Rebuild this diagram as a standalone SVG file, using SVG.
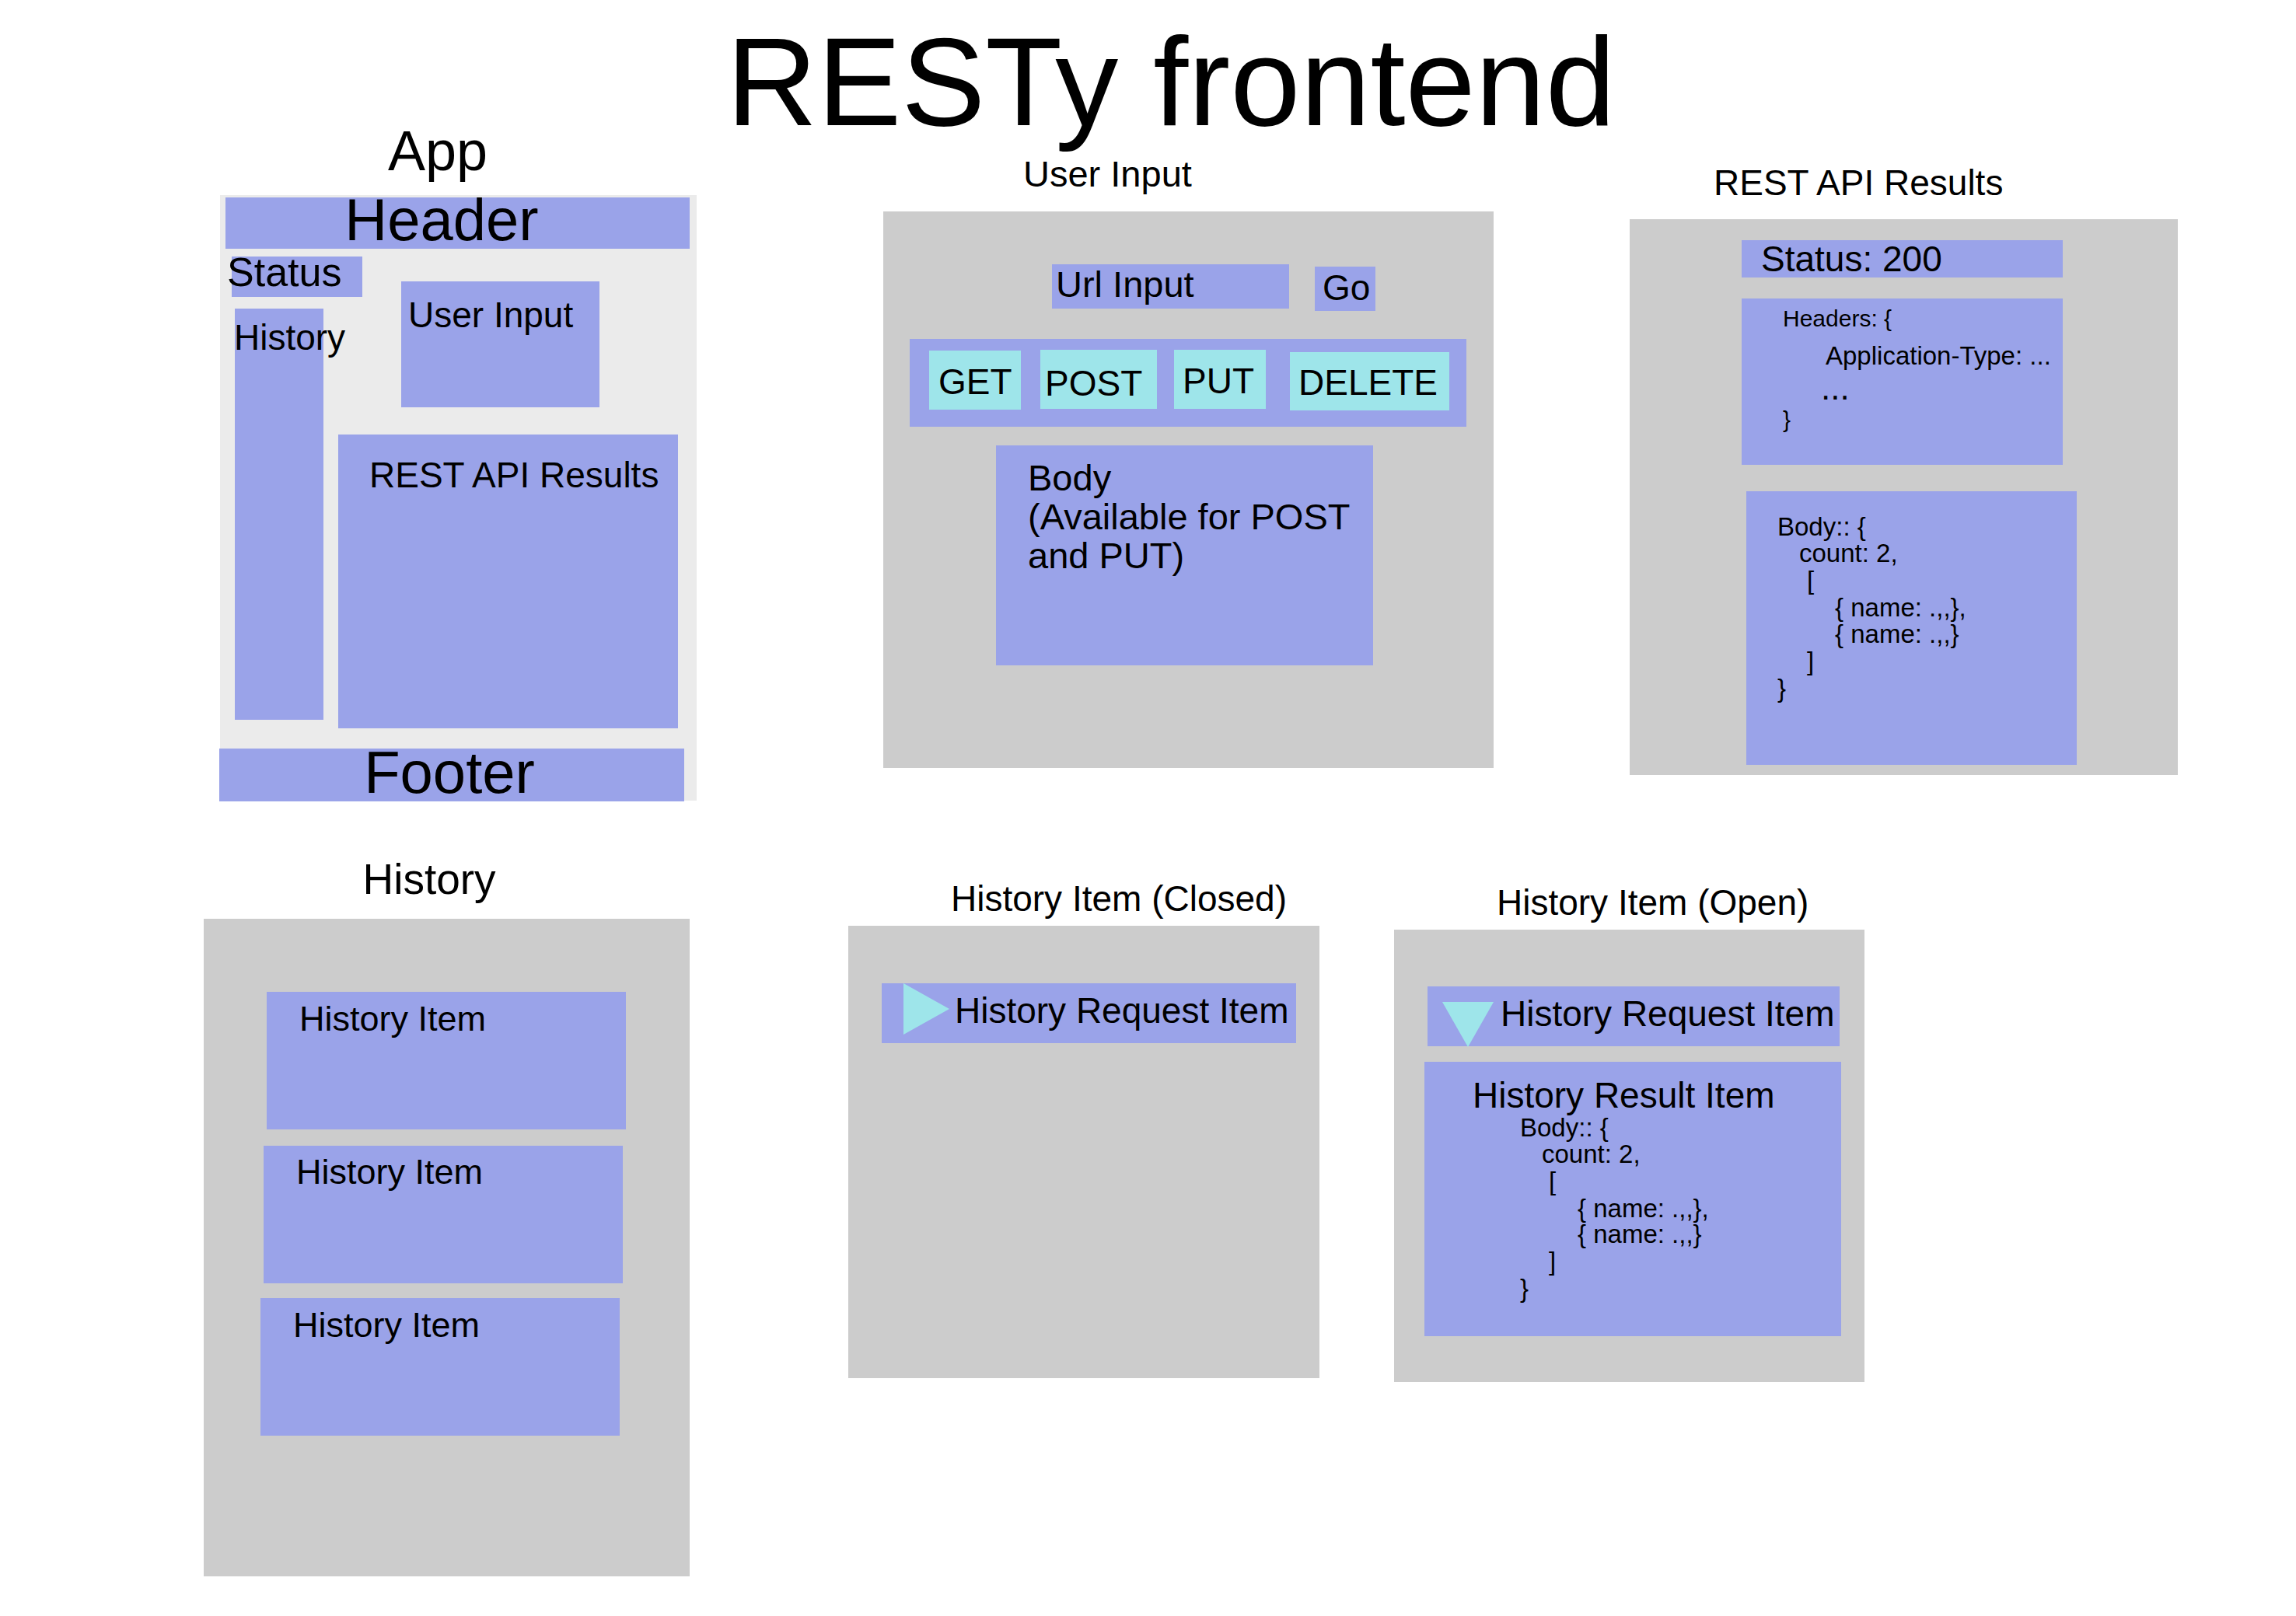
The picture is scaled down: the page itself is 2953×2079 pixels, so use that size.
<svg xmlns="http://www.w3.org/2000/svg" width="2953" height="2079" viewBox="0 0 2953 2079">
<style>
text{font-family:"Liberation Sans",Arial,sans-serif;fill:#000}
.bl{fill:#9aa3e9}
.cy{fill:#9ee5ea}
.gr{fill:#cccccc}
.lt{fill:#ebebeb}
.t46{font-size:46px}
.t33{font-size:33px}
</style>
<rect x="0" y="0" width="2953" height="2079" fill="#ffffff"/>
<text x="1506" y="161" font-size="162" text-anchor="middle">RESTy frontend</text>

<g id="app">
<text x="563" y="219" font-size="72" text-anchor="middle">App</text>
<rect class="lt" x="283" y="251" width="613" height="779"/>
<g id="app-header"><rect class="bl" x="290" y="254" width="597" height="66"/><text x="568" y="309" font-size="76" text-anchor="middle">Header</text></g>
<g id="app-status"><rect class="bl" x="298" y="330" width="168" height="52"/><text x="292" y="368" font-size="52">Status</text></g>
<g id="app-history"><rect class="bl" x="302" y="397" width="114" height="529"/><text x="301" y="450" font-size="46">History</text></g>
<g id="app-userinput"><rect class="bl" x="516" y="362" width="255" height="162"/><text x="525" y="421" class="t46">User Input</text></g>
<g id="app-results"><rect class="bl" x="435" y="559" width="437" height="378"/><text x="475" y="627" class="t46">REST API Results</text></g>
<g id="app-footer"><rect class="bl" x="282" y="963" width="598" height="68"/><text x="578" y="1020" font-size="76" text-anchor="middle">Footer</text></g>
</g>

<g id="user-input">
<text x="1316" y="240" font-size="47">User Input</text>
<rect class="gr" x="1136" y="272" width="785" height="716"/>
<g id="url-input"><rect class="bl" x="1353" y="340" width="305" height="57"/><text x="1358" y="382" font-size="47">Url Input</text></g>
<g id="go"><rect class="bl" x="1691" y="343" width="78" height="57"/><text x="1701" y="386" font-size="46">Go</text></g>
<g id="methods"><rect class="bl" x="1170" y="436" width="716" height="113"/></g>
<g id="get"><rect class="cy" x="1195" y="451" width="118" height="76"/><text x="1207" y="507" class="t46">GET</text></g>
<g id="post"><rect class="cy" x="1338" y="450" width="150" height="76"/><text x="1344" y="509" class="t46">POST</text></g>
<g id="put"><rect class="cy" x="1510" y="450" width="118" height="76"/><text x="1521" y="506" class="t46">PUT</text></g>
<g id="delete"><rect class="cy" x="1659" y="453" width="205" height="75"/><text x="1670" y="508" class="t46">DELETE</text></g>
<g id="body-input"><rect class="bl" x="1281" y="573" width="485" height="283"/>
<text x="1322" y="631" font-size="47">Body</text>
<text x="1322" y="681" font-size="47">(Available for POST</text>
<text x="1322" y="731" font-size="47">and PUT)</text></g>
</g>

<g id="rest-results">
<text x="2204" y="251" class="t46">REST API Results</text>
<rect class="gr" x="2096" y="282" width="705" height="715"/>
<g id="status-200"><rect class="bl" x="2240" y="309" width="413" height="48"/><text x="2265" y="349" class="t46">Status: 200</text></g>
<g id="headers"><rect class="bl" x="2240" y="384" width="413" height="214"/>
<text x="2293" y="420" font-size="30">Headers: {</text>
<text x="2348" y="469" class="t33">Application-Type: ...</text>
<text x="2342" y="514" font-size="44">...</text>
<text x="2293" y="550" font-size="30">}</text></g>
<g id="body-result"><rect class="bl" x="2246" y="632" width="425" height="352"/>
<text x="2286" y="689" class="t33">Body:: {</text>
<text x="2314" y="723" class="t33">count: 2,</text>
<text x="2324" y="758" class="t33">[</text>
<text x="2360" y="793" class="t33">{ name: .,,},</text>
<text x="2360" y="827" class="t33">{ name: .,,}</text>
<text x="2324" y="862" class="t33">]</text>
<text x="2286" y="897" class="t33">}</text></g>
</g>

<g id="history">
<text x="552" y="1150" font-size="55" text-anchor="middle">History</text>
<rect class="gr" x="262" y="1182" width="625" height="846"/>
<g id="history-item-1"><rect class="bl" x="343" y="1276" width="462" height="177"/><text x="385" y="1326" font-size="45">History Item</text></g>
<g id="history-item-2"><rect class="bl" x="339" y="1474" width="462" height="177"/><text x="381" y="1523" font-size="45">History Item</text></g>
<g id="history-item-3"><rect class="bl" x="335" y="1670" width="462" height="177"/><text x="377" y="1720" font-size="45">History Item</text></g>
</g>

<g id="history-item-closed">
<text x="1223" y="1172" class="t46">History Item (Closed)</text>
<rect class="gr" x="1091" y="1191" width="606" height="582"/>
<rect class="bl" x="1134" y="1265" width="533" height="77"/>
<polygon class="cy" points="1162,1265 1221,1298 1162,1331"/>
<text x="1228" y="1316" class="t46">History Request Item</text>
</g>

<g id="history-item-open">
<text x="1925" y="1177" class="t46">History Item (Open)</text>
<rect class="gr" x="1793" y="1196" width="605" height="582"/>
<g id="open-request"><rect class="bl" x="1836" y="1269" width="530" height="77"/>
<polygon class="cy" points="1855,1289 1921,1289 1888,1347"/>
<text x="1930" y="1320" class="t46">History Request Item</text></g>
<g id="open-result"><rect class="bl" x="1832" y="1366" width="536" height="353"/>
<text x="1894" y="1425" class="t46">History Result Item</text>
<text x="1955" y="1462" class="t33">Body:: {</text>
<text x="1983" y="1496" class="t33">count: 2,</text>
<text x="1992" y="1531" class="t33">[</text>
<text x="2029" y="1566" class="t33">{ name: .,,},</text>
<text x="2029" y="1599" class="t33">{ name: .,,}</text>
<text x="1992" y="1634" class="t33">]</text>
<text x="1955" y="1669" class="t33">}</text></g>
</g>

<g id="connectors"></g>
</svg>
